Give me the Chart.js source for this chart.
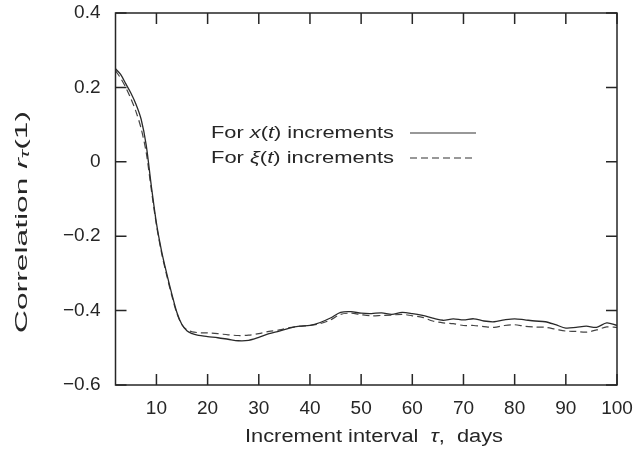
<!DOCTYPE html>
<html>
<head>
<meta charset="utf-8">
<script src="https://cdn.jsdelivr.net/npm/chart.js@4"></script>
<style>
  html, body { margin: 0; padding: 0; background: #fff; }
  #wrap { width: 640px; height: 455px; }
</style>
</head>
<body>
<div id="wrap"><canvas id="chart" width="640" height="455"></canvas></div>
<script>
// increment interval tau, days
const tau = [2, 3, 4, 5, 6, 7, 8, 9, 10, 11, 12, 13, 14, 15, 16, 17, 18, 19, 20,
  22, 24, 26, 28, 30, 32, 34, 36, 38, 40, 42, 44, 46, 48, 50, 52, 54, 56, 58, 60,
  62, 64, 66, 68, 70, 72, 74, 76, 78, 80, 82, 84, 86, 88, 90, 92, 94, 96, 98, 100];

// correlation for x(t) increments
const corrX = [0.25, 0.235, 0.21, 0.185, 0.155, 0.115, 0.045, -0.065, -0.165, -0.24, -0.3, -0.355, -0.405, -0.438, -0.455, -0.462, -0.466, -0.468, -0.47,
  -0.473, -0.477, -0.481, -0.48, -0.472, -0.462, -0.455, -0.447, -0.442, -0.44, -0.432, -0.42, -0.405, -0.403, -0.407, -0.408, -0.406, -0.41, -0.405, -0.408,
  -0.413, -0.42, -0.426, -0.422, -0.425, -0.422, -0.428, -0.43, -0.425, -0.422, -0.425, -0.428, -0.43, -0.438, -0.447, -0.445, -0.442, -0.445, -0.433, -0.44];

// correlation for xi(t) increments
const corrXi = [0.245, 0.225, 0.2, 0.17, 0.135, 0.09, 0.025, -0.075, -0.17, -0.245, -0.305, -0.36, -0.408, -0.438, -0.452, -0.457, -0.459, -0.46, -0.46,
  -0.462, -0.465, -0.467, -0.466, -0.462, -0.456, -0.452, -0.446, -0.442, -0.44, -0.435, -0.425, -0.41, -0.407, -0.411, -0.414, -0.413, -0.412, -0.41, -0.414,
  -0.418, -0.428, -0.433, -0.435, -0.44, -0.44, -0.443, -0.445, -0.44, -0.438, -0.442, -0.444, -0.445, -0.45, -0.455, -0.456, -0.458, -0.452, -0.444, -0.445];

const xTicks = [10, 20, 30, 40, 50, 60, 70, 80, 90, 100];
const yTicks = [-0.6, -0.4, -0.2, 0, 0.2, 0.4];

const FONT = '"Liberation Sans", Arial, sans-serif';
const INK = '#262626';

// draw a run of text pieces, squeezed/stretched to a given width
function drawRich(ctx, parts, x, y, size, width, align) {
  ctx.save();
  let natural = 0;
  parts.forEach(p => {
    ctx.font = (p.it ? 'italic ' : '') + (p.size || size) + 'px ' + FONT;
    natural += ctx.measureText(p.t).width;
  });
  const k = width ? width / natural : 1;
  ctx.translate(x, y);
  ctx.scale(k, 1);
  let cx = align === 'center' ? -natural / 2 : 0;
  ctx.fillStyle = INK;
  ctx.textBaseline = 'middle';
  ctx.textAlign = 'left';
  parts.forEach(p => {
    ctx.font = (p.it ? 'italic ' : '') + (p.size || size) + 'px ' + FONT;
    ctx.fillText(p.t, cx, p.dy || 0);
    cx += ctx.measureText(p.t).width;
  });
  ctx.restore();
}

function noPad(s) {
  s.paddingTop = 0; s.paddingBottom = 0; s.paddingLeft = 0; s.paddingRight = 0;
}

const frame = {
  id: 'frame',
  afterDatasetsDraw(chart) {
    const ctx = chart.ctx;
    const a = chart.chartArea;
    const xs = chart.scales.x, ys = chart.scales.y;
    ctx.save();
    ctx.strokeStyle = INK;
    ctx.lineWidth = 1.5;
    ctx.strokeRect(a.left, a.top, a.right - a.left, a.bottom - a.top);
    // inward ticks on all four sides
    ctx.beginPath();
    xTicks.forEach(v => {
      const px = xs.getPixelForValue(v);
      ctx.moveTo(px, a.bottom); ctx.lineTo(px, a.bottom - 11);
      ctx.moveTo(px, a.top); ctx.lineTo(px, a.top + 11);
    });
    yTicks.forEach(v => {
      const py = ys.getPixelForValue(v);
      ctx.moveTo(a.left, py); ctx.lineTo(a.left + 11, py);
      ctx.moveTo(a.right, py); ctx.lineTo(a.right - 11, py);
    });
    ctx.stroke();

    // legend
    drawRich(ctx, [{t: 'For '}, {t: 'x', it: 1}, {t: '('}, {t: 't', it: 1}, {t: ') increments'}], 211, 133, 17, 183, 'left');
    drawRich(ctx, [{t: 'For '}, {t: 'ξ', it: 1}, {t: '('}, {t: 't', it: 1}, {t: ') increments'}], 211, 158, 17, 183, 'left');
    ctx.lineWidth = 1.2;
    ctx.strokeStyle = '#333';
    ctx.beginPath(); ctx.moveTo(410, 133); ctx.lineTo(476, 133); ctx.stroke();
    ctx.setLineDash([7, 4]);
    ctx.beginPath(); ctx.moveTo(410, 158); ctx.lineTo(476, 158); ctx.stroke();
    ctx.setLineDash([]);

    // axis titles
    drawRich(ctx, [{t: 'Increment interval  '}, {t: 'τ', it: 1}, {t: ',  days'}], 374, 437, 18, 258, 'center');
    ctx.save();
    ctx.translate(22, 222);
    ctx.rotate(-Math.PI / 2);
    drawRich(ctx, [{t: 'Correlation '}, {t: 'r', it: 1}, {t: 'τ', it: 1, size: 12, dy: 4}, {t: '(1)'}], 0, 0, 17, 222, 'center');
    ctx.restore();
    ctx.restore();
  }
};

new Chart(document.getElementById('chart').getContext('2d'), {
  type: 'line',
  data: {
    datasets: [{
      label: 'For x(t) increments',
      data: tau.map((t, i) => ({ x: t, y: corrX[i] })),
      borderColor: '#2a2a2a',
      borderWidth: 1.3,
      pointRadius: 0,
      tension: 0.3
    }, {
      label: 'For ξ(t) increments',
      data: tau.map((t, i) => ({ x: t, y: corrXi[i] })),
      borderColor: '#444',
      borderWidth: 1.2,
      borderDash: [7, 4],
      pointRadius: 0,
      tension: 0.3
    }]
  },
  options: {
    responsive: false,
    animation: false,
    layout: { padding: { top: 13, right: 23, left: 0, bottom: 0 } },
    plugins: {
      legend: { display: false },
      tooltip: { enabled: false }
    },
    scales: {
      x: {
        type: 'linear',
        min: 2,
        max: 100,
        afterBuildTicks: s => { s.ticks = xTicks.map(v => ({ value: v })); },
        afterFit: s => { s.height = 70; noPad(s); },
        grid: { display: false, drawTicks: false },
        border: { display: false },
        ticks: { color: INK, font: { family: FONT, size: 19 }, padding: 12, maxRotation: 0 }
      },
      y: {
        min: -0.6,
        max: 0.4,
        afterBuildTicks: s => { s.ticks = yTicks.map(v => ({ value: v })); },
        afterFit: s => { s.width = 115.5; noPad(s); },
        grid: { display: false, drawTicks: false },
        border: { display: false },
        ticks: {
          color: INK,
          font: { family: FONT, size: 19 },
          padding: 15,
          callback: v => (Math.abs(v) < 1e-9 ? '0' : String(Math.round(v * 10) / 10).replace('-', '−'))
        }
      }
    }
  },
  plugins: [frame]
});
</script>
</body>
</html>
